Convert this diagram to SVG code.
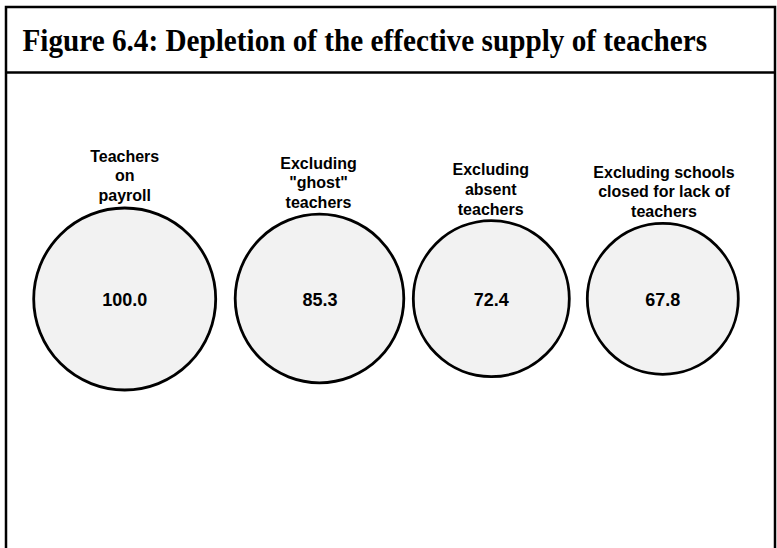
<svg xmlns="http://www.w3.org/2000/svg" width="777" height="548" viewBox="0 0 777 548">
<style>
.frame{fill:none;stroke:#000;stroke-width:2.5}
.bubble{fill:#f2f2f2;stroke:#000;stroke-width:2.8}
.title{font-family:"Liberation Serif","Times New Roman",serif;font-weight:bold;font-size:31.5px;fill:#000}
.lbl{font-family:"Liberation Sans",Arial,sans-serif;font-weight:bold;font-size:16px;fill:#000;text-anchor:middle}
.val{font-family:"Liberation Sans",Arial,sans-serif;font-weight:bold;font-size:18px;fill:#000;text-anchor:middle}
</style>
<rect width="777" height="548" fill="#fff"/>
<g id="frame">
<rect class="frame" x="6" y="7" width="769" height="560"/>
<line class="frame" x1="6" y1="72.5" x2="775" y2="72.5"/>
<text class="title" x="22.5" y="51" textLength="684.5" lengthAdjust="spacingAndGlyphs">Figure 6.4: Depletion of the effective supply of teachers</text>
</g>
<g id="connectors"></g>
<g id="node-payroll">
<circle class="bubble" cx="124.7" cy="299" r="91"/>
<text class="lbl" x="124.7" y="161.5">Teachers</text>
<text class="lbl" x="124.7" y="181">on</text>
<text class="lbl" x="124.7" y="200.5">payroll</text>
<text class="val" x="124.7" y="305.5">100.0</text>
</g>
<g id="node-ghost">
<circle class="bubble" cx="319.5" cy="298.5" r="84.3"/>
<text class="lbl" x="318.5" y="168.5">Excluding</text>
<text class="lbl" x="318.5" y="188">"ghost"</text>
<text class="lbl" x="318.5" y="207.5">teachers</text>
<text class="val" x="320" y="305.5">85.3</text>
</g>
<g id="node-absent">
<circle class="bubble" cx="491.3" cy="298.7" r="78"/>
<text class="lbl" x="490.7" y="175">Excluding</text>
<text class="lbl" x="490.7" y="195">absent</text>
<text class="lbl" x="490.7" y="215">teachers</text>
<text class="val" x="491.3" y="305.5">72.4</text>
</g>
<g id="node-closed">
<circle class="bubble" cx="662.8" cy="298.8" r="75.5"/>
<text class="lbl" x="664" y="177.5">Excluding schools</text>
<text class="lbl" x="664" y="197">closed for lack of</text>
<text class="lbl" x="664" y="216.5">teachers</text>
<text class="val" x="662.8" y="305.5">67.8</text>
</g>
</svg>
